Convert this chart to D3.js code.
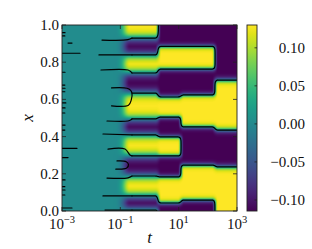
<!DOCTYPE html>
<html><head><meta charset="utf-8">
<script src="https://cdn.jsdelivr.net/npm/d3@7"></script>
<style>
body{margin:0;background:#fff}
svg{display:block}
</style>
</head><body>
<svg id="chart" width="312" height="249"></svg>
<script>
// ---------------- data ----------------
const tDomain = [1e-3, 1e3];
const xDomain = [0, 1];
const colorDomain = [-0.1145, 0.130];

const xTickValues = [1e-3, 1e-1, 1e1, 1e3];
const xTickExponents = ["\u22123", "\u22121", "1", "3"];
const yTickValues = [0, 0.2, 0.4, 0.6, 0.8, 1.0];
const yTickLabels = ["0.0", "0.2", "0.4", "0.6", "0.8", "1.0"];
const cTickValues = [-0.10, -0.05, 0.0, 0.05, 0.10];
const cTickLabels = ["\u22120.10", "\u22120.05", "0.00", "0.05", "0.10"];

// growth of the pattern (t where bands start / reach full amplitude)
const onsetT = [0.055, 0.21];
const restValue = 0.003;
const bandHigh = 0.13;
const bandLow = -0.115;

// times where the band pattern coarsens
const phaseBreaks = [2.0, 12, 176];
// interface positions (x) of each stage, top to bottom, with sign of the top band
const phase1Interfaces = [0.930, 0.839, 0.742, 0.634, 0.495, 0.409, 0.296, 0.188, 0.081, 0.005];
const phase2Interfaces = [0.885, 0.763, 0.613, 0.505, 0.398, 0.296, 0.183, 0.043];
const phase3Interfaces = [0.885, 0.763, 0.624, 0.452, 0.247, 0.059];
const phase4Interfaces = [0.704, 0.435, 0.237];
const phaseTopSign = [1, -1, -1, -1];
const phaseWidth = [0.026, 0.014, 0.014, 0.016];

// zero-level contour pieces before the pattern has grown (t, x)
const earlyContours = [
  [[0.001,0.959],[0.00127,0.959]],
  [[0.001,0.941],[0.00125,0.941]],
  [[0.00161,0.903],[0.0022,0.903]],
  [[0.001,0.848],[0.00414,0.848]],
  [[0.001,0.746],[0.00127,0.746]],
  [[0.001,0.677],[0.00125,0.677]],
  [[0.001,0.660],[0.00127,0.660]],
  [[0.001,0.641],[0.00125,0.641]],
  [[0.001,0.581],[0.00135,0.581]],
  [[0.001,0.554],[0.00127,0.554]],
  [[0.001,0.527],[0.00125,0.527]],
  [[0.001,0.462],[0.00127,0.462]],
  [[0.001,0.435],[0.00125,0.435]],
  [[0.001,0.337],[0.00327,0.337]],
  [[0.001,0.287],[0.00161,0.287]],
  [[0.001,0.167],[0.00127,0.167]],
  [[0.001,0.131],[0.00125,0.131]],
  [[0.001,0.113],[0.00127,0.113]],
  [[0.001,0.086],[0.00125,0.086]],
  [[0.001,0.016],[0.0022,0.016]],
  [[0.0235,0.919],[0.183,0.921],[0.251,0.930]],
  [[0.0185,0.839],[0.251,0.839]],
  [[0.0217,0.758],[0.183,0.758],[0.232,0.748],[0.251,0.742]],
  [[0.05,0.662],[0.17,0.660],[0.222,0.650],[0.251,0.634],[0.235,0.595],[0.19,0.568],[0.05,0.565]],
  [[0.0349,0.484],[0.183,0.484],[0.232,0.49],[0.251,0.495]],
  [[0.0254,0.414],[0.251,0.409]],
  [[0.0378,0.333],[0.1445,0.333],[0.214,0.301],[0.251,0.296]],
  [[0.0769,0.269],[0.16,0.265],[0.19,0.25],[0.168,0.232],[0.13,0.226],[0.07,0.225]],
  [[0.0349,0.177],[0.183,0.178],[0.251,0.188]],
  [[0.0254,0.081],[0.251,0.081]],
  [[0.0298,0.005],[0.251,0.005]]
];
const contourStartT = 0.251;

// ---------------- field built from the arrays ----------------
const phases = [phase1Interfaces, phase2Interfaces, phase3Interfaces, phase4Interfaces];
function smooth01(u){ u = Math.max(0, Math.min(1, u)); return u*u*(3-2*u); }
function profile(k, x){
  const I = phases[k];
  let n = 0, d = Infinity;
  for (const v of I){ if (v > x) n++; d = Math.min(d, Math.abs(x - v)); }
  const s = phaseTopSign[k] * (n % 2 === 0 ? 1 : -1);
  const m = Math.tanh(d / phaseWidth[k]);
  return s > 0 ? bandHigh * m : bandLow * m;
}
function field(t, x){
  const lt = Math.log10(t);
  let v = profile(0, x);
  phaseBreaks.forEach((b, i) => {
    const s = smooth01((lt - Math.log10(b)) / 0.2 + 0.5);
    if (s > 0) v = v * (1 - s) + profile(i + 1, x) * s;
  });
  const a = smooth01((lt - Math.log10(onsetT[0])) / (Math.log10(onsetT[1]) - Math.log10(onsetT[0])));
  return restValue * (1 - a) + v * a * a;
}

// ---------------- drawing ----------------
const FONT = "'Liberation Serif', 'DejaVu Serif', serif";
const M = {l: 62, r: 237, t: 25, b: 211};
const svg = d3.select("#chart");
const xs = d3.scaleLog().domain(tDomain).range([M.l, M.r]);
const ys = d3.scaleLinear().domain(xDomain).range([M.b, M.t]);
const cs = d3.scaleSequential(d3.interpolateViridis).domain(colorDomain).clamp(true);

// heatmap
const SS = 2;
const cw = (M.r - M.l) * SS, ch = (M.b - M.t) * SS;
const cv = document.createElement("canvas");
cv.width = cw; cv.height = ch;
const ctx = cv.getContext("2d");
const img = ctx.createImageData(cw, ch);
for (let i = 0; i < cw; i++){
  const t = xs.invert(M.l + (i + 0.5) / SS);
  for (let j = 0; j < ch; j++){
    const x = ys.invert(M.t + (j + 0.5) / SS);
    const c = d3.rgb(cs(field(t, x)));
    const k = (j * cw + i) * 4;
    img.data[k] = c.r; img.data[k+1] = c.g; img.data[k+2] = c.b; img.data[k+3] = 255;
  }
}
ctx.putImageData(img, 0, 0);
svg.append("image")
  .attr("x", M.l).attr("y", M.t)
  .attr("width", M.r - M.l).attr("height", M.b - M.t)
  .attr("preserveAspectRatio", "none")
  .attr("href", cv.toDataURL());

// contours (marching squares on the field, zero level)
const clip = svg.append("clipPath").attr("id", "clipPlot");
clip.append("rect").attr("x", M.l).attr("y", M.t).attr("width", M.r - M.l).attr("height", M.b - M.t);
const gC = svg.append("g").attr("clip-path", "url(#clipPlot)");

const lt0 = Math.log10(contourStartT), lt1 = Math.log10(tDomain[1]);
const nC = 400, nR = 420;
const g = new Float64Array(nC * nR);
const LT = i => lt0 + (lt1 - lt0) * i / (nC - 1);
const XX = j => j / (nR - 1);
for (let i = 0; i < nC; i++){
  const t = Math.pow(10, LT(i));
  for (let j = 0; j < nR; j++) g[j * nC + i] = field(t, XX(j));
}
let dPath = "";
function P(lt, x){ return [xs(Math.pow(10, lt)), ys(x)]; }
function cross(ia, ja, ib, jb){
  const va = g[ja * nC + ia], vb = g[jb * nC + ib];
  const f = va / (va - vb);
  const lt = LT(ia) + (LT(ib) - LT(ia)) * f;
  const x = XX(ja) + (XX(jb) - XX(ja)) * f;
  return P(lt, x);
}
function seg(a, b){ dPath += `M${a[0].toFixed(2)},${a[1].toFixed(2)}L${b[0].toFixed(2)},${b[1].toFixed(2)}`; }
for (let i = 0; i < nC - 1; i++){
  for (let j = 0; j < nR - 1; j++){
    const v0 = g[j*nC+i], v1 = g[j*nC+i+1], v2 = g[(j+1)*nC+i+1], v3 = g[(j+1)*nC+i];
    const s0 = v0 >= 0, s1 = v1 >= 0, s2 = v2 >= 0, s3 = v3 >= 0;
    const e = [];
    e[0] = s0 !== s1 ? cross(i, j, i+1, j) : null;
    e[1] = s1 !== s2 ? cross(i+1, j, i+1, j+1) : null;
    e[2] = s2 !== s3 ? cross(i+1, j+1, i, j+1) : null;
    e[3] = s3 !== s0 ? cross(i, j+1, i, j) : null;
    const pts = e.filter(p => p);
    if (pts.length === 2) seg(pts[0], pts[1]);
    else if (pts.length === 4){
      const c = (v0 + v1 + v2 + v3) / 4 >= 0;
      if (c === s0){ seg(e[0], e[1]); seg(e[2], e[3]); }
      else { seg(e[3], e[0]); seg(e[1], e[2]); }
    }
  }
}
gC.append("path").attr("d", dPath)
  .attr("fill", "none").attr("stroke", "#000").attr("stroke-width", 1.2)
  .attr("stroke-linecap", "round").attr("stroke-linejoin", "round");

const line2 = d3.line().x(d => xs(d[0])).y(d => ys(d[1])).curve(d3.curveCatmullRom.alpha(0.5));
gC.selectAll("path.early").data(earlyContours).join("path")
  .attr("class", "early")
  .attr("d", d => line2(d))
  .attr("fill", "none").attr("stroke", "#000").attr("stroke-width", 1.2)
  .attr("stroke-linecap", "round");

// frame
svg.append("rect").attr("x", M.l).attr("y", M.t).attr("width", M.r - M.l).attr("height", M.b - M.t)
  .attr("fill", "none").attr("stroke", "#222").attr("stroke-width", 0.9);

// ticks (inward, all sides)
const tk = 4;
const gt = svg.append("g").attr("stroke", "#222").attr("stroke-width", 0.8);
xTickValues.forEach(v => {
  const x = xs(v);
  gt.append("line").attr("x1", x).attr("x2", x).attr("y1", M.b).attr("y2", M.b - tk);
  gt.append("line").attr("x1", x).attr("x2", x).attr("y1", M.t).attr("y2", M.t + tk);
});
yTickValues.forEach(v => {
  const y = ys(v);
  gt.append("line").attr("x1", M.l).attr("x2", M.l + tk).attr("y1", y).attr("y2", y);
  gt.append("line").attr("x1", M.r).attr("x2", M.r - tk).attr("y1", y).attr("y2", y);
});

// tick labels
xTickValues.forEach((v, i) => {
  const t = svg.append("text").attr("x", xs(v)).attr("y", 228.5)
    .attr("text-anchor", "middle").attr("font-size", 15).attr("font-family", FONT).attr("fill", "#111");
  t.append("tspan").text("10");
  t.append("tspan").attr("dy", -6).attr("font-size", 10.5).text(xTickExponents[i]);
});
yTickValues.forEach((v, i) => {
  svg.append("text").attr("x", 59).attr("y", ys(v)).attr("dy", "0.33em")
    .attr("text-anchor", "end").attr("font-size", 15).attr("font-family", FONT).attr("fill", "#111")
    .text(yTickLabels[i]);
});

// axis labels
svg.append("text").attr("x", (M.l + M.r) / 2).attr("y", 243)
  .attr("text-anchor", "middle").attr("font-size", 17).attr("font-style", "italic")
  .attr("font-family", FONT).attr("fill", "#111").text("t");
svg.append("text").attr("transform", `translate(33,${(M.t + M.b) / 2}) rotate(-90)`)
  .attr("text-anchor", "middle").attr("font-size", 17).attr("font-style", "italic")
  .attr("font-family", FONT).attr("fill", "#111").text("x");

// colorbar
const CB = {l: 247, r: 257, t: 25, b: 211};
const cy = d3.scaleLinear().domain(colorDomain).range([CB.b, CB.t]);
const grad = svg.append("defs").append("linearGradient").attr("id", "cbg")
  .attr("x1", 0).attr("x2", 0).attr("y1", 1).attr("y2", 0);
d3.range(0, 1.0001, 0.05).forEach(f => {
  grad.append("stop").attr("offset", f).attr("stop-color", d3.interpolateViridis(f));
});
svg.append("rect").attr("x", CB.l).attr("y", CB.t).attr("width", CB.r - CB.l).attr("height", CB.b - CB.t)
  .attr("fill", "url(#cbg)").attr("stroke", "#222").attr("stroke-width", 0.9);
cTickValues.forEach((v, i) => {
  const y = cy(v);
  svg.append("line").attr("x1", CB.r).attr("x2", CB.r - 2.5).attr("y1", y).attr("y2", y)
    .attr("stroke", "#222").attr("stroke-width", 0.8);
  svg.append("text").attr("x", 305).attr("y", y).attr("dy", "0.33em")
    .attr("text-anchor", "end").attr("font-size", 15).attr("font-family", FONT).attr("fill", "#111")
    .text(cTickLabels[i]);
});
</script>
</body></html>
